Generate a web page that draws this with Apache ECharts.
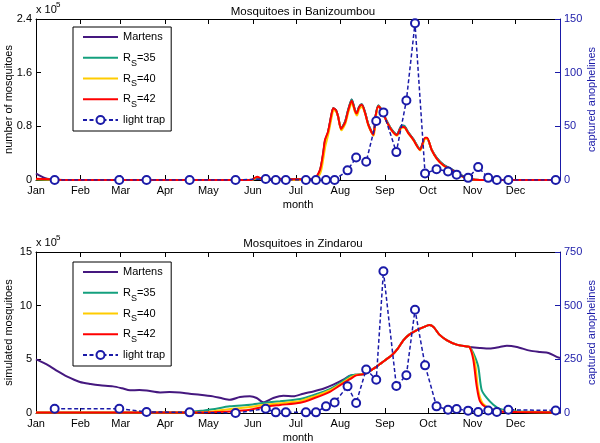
<!DOCTYPE html>
<html><head><meta charset="utf-8">
<script src="https://cdn.jsdelivr.net/npm/echarts@6/dist/echarts.min.js"></script>
<style>html,body{margin:0;padding:0;background:#fff}#c{width:600px;height:443px}</style>
</head><body><div id="c"></div>
<script>
// ---- tick labels / categories ----
const monthNames = ['Jan','Feb','Mar','Apr','May','Jun','Jul','Aug','Sep','Oct','Nov','Dec'];
const monthStartDays = [0,31,59,90,120,151,181,212,243,273,304,334];
const titles = ['Mosquitoes in Banizoumbou', 'Mosquitoes in Zindarou'];
const seriesNames = ['Martens','R_S=35','R_S=40','R_S=42','light trap'];

// ---- Banizoumbou (x: day of year, y: mosquitoes in 1e5) ----
const banMartens = [[0,0.1],[3,0.06],[6,0.03],[10,0.01],[14,0],[150,0],[154,0.03],[158,0.01],[194,0.01],[197.8,0.14],[200,0.38],[201.3,0.58],[203.4,0.71],[206,0.99],[207.1,1.07],[209,1.04],[210.4,0.95],[212.5,0.77],[215.3,0.87],[217.5,1.05],[219.9,1.2],[222.2,1.04],[223.4,1.0],[225,1.09],[226.9,1.13],[229.2,1.01],[231.5,0.83],[235,0.68],[236.5,0.95],[238.4,1.11],[240.8,1.04],[244.3,0.88],[247.8,0.75],[251.3,0.68],[254.7,0.81],[256.3,0.81],[259.3,0.71],[262.8,0.61],[267.5,0.46],[271,0.62],[272.4,0.62],[275.6,0.45],[279.1,0.33],[283.7,0.23],[289.6,0.16],[295.3,0.08],[302.3,0.02],[309.3,0],[365,0]];
const banR35 = [[0,0.01],[20,0],[150,0],[154,0.03],[158,0.01],[194,0.01],[197.8,0.14],[200,0.38],[201.3,0.58],[203.4,0.71],[206,0.99],[207.1,1.07],[209,1.04],[210.4,0.95],[212.5,0.77],[215.3,0.87],[217.5,1.05],[219.9,1.2],[222.2,1.04],[223.4,1.0],[225,1.09],[226.9,1.13],[229.2,1.01],[231.5,0.83],[235,0.68],[236.5,0.95],[238.4,1.11],[240.8,1.04],[244.3,0.88],[247.8,0.75],[251.3,0.68],[254.7,0.81],[256.3,0.81],[259.3,0.71],[262.8,0.61],[267.5,0.46],[271,0.62],[272.4,0.62],[275.6,0.45],[279.1,0.33],[283.7,0.23],[289.6,0.16],[295.3,0.08],[302.3,0.02],[309.3,0],[365,0]];
const banR40 = [[0,0.01],[20,0],[150,0],[154,0.04],[158,0.01],[168,0.02],[172,0],[194,0.01],[198,0.1],[200,0.3],[201.5,0.5],[203.6,0.68],[206.2,0.96],[207.3,1.04],[209,1.02],[210.6,0.93],[212.7,0.74],[215.5,0.84],[217.7,1.02],[220,1.15],[222.4,1.0],[223.6,0.96],[225.2,1.06],[227,1.09],[229.4,0.98],[231.7,0.8],[235.2,0.66],[236.7,0.93],[238.6,1.1],[241,1.03],[244.5,0.86],[248,0.73],[251.5,0.66],[254.9,0.78],[256.5,0.78],[259.5,0.69],[263,0.59],[267.7,0.44],[271.2,0.61],[272.6,0.61],[275.8,0.44],[279.3,0.31],[284,0.21],[290,0.14],[295.5,0.06],[302.5,0.01],[309.3,0],[365,0]];
const banR42 = [[0,0.02],[10,0.01],[20,0],[150,0],[154,0.05],[158,0.01],[165,0.01],[168,0.03],[172,0.01],[190,0.01],[194,0.02],[197.8,0.15],[200,0.4],[201.3,0.6],[203.4,0.72],[206,1.0],[207.1,1.07],[209,1.04],[210.4,0.95],[212.5,0.76],[215.3,0.86],[217.5,1.04],[219.9,1.18],[222.2,1.03],[223.4,0.99],[225,1.08],[226.9,1.12],[229.2,1.0],[231.5,0.82],[235,0.67],[236.5,0.95],[238.4,1.1],[240.8,1.04],[244.3,0.87],[247.8,0.74],[251.3,0.67],[254.7,0.79],[256.3,0.79],[259.3,0.7],[262.8,0.6],[267.5,0.45],[271,0.63],[272.4,0.63],[275.6,0.45],[279.1,0.32],[283.7,0.22],[289.6,0.15],[295.3,0.07],[302.3,0.015],[309.3,0],[365,0]];
const banTrap = [[13,0],[58,0],[77,0],[107,0],[139,0],[160,1],[167,0],[174,0],[188,0],[195,0],[202,0],[208,0],[217,9],[223,21],[230,17],[237,55],[242,63],[251,26],[258,74],[264,146],[271,6],[279,10],[287,8],[293,5],[301,2],[308,12],[315,2],[321,0],[329,0],[362,0]];

// ---- Zindarou ----
const zinMartens = [[0,5.0],[5,4.7],[9.8,4.35],[15,3.9],[21.4,3.41],[30.6,2.89],[38,2.7],[44.6,2.58],[53.6,2.48],[60,2.3],[65.5,2.11],[72,2.15],[77.1,2.1],[86.4,1.92],[93,1.95],[100.3,1.92],[107,1.8],[114.2,1.71],[123.3,1.55],[130,1.35],[135.1,1.24],[142.1,1.49],[149,1.55],[153.7,1.4],[158.3,1.0],[165.3,1.4],[172.3,1.61],[179.2,1.55],[186.2,1.8],[193.2,2.01],[200.1,2.26],[207.1,2.64],[214.1,3.1],[218.7,3.48],[223.4,3.57],[228,3.62],[230.4,3.75],[233,3.95],[237,4.3],[240,4.6],[244,5.0],[248,5.4],[252,6.0],[256,6.8],[260,7.3],[265,7.7],[270,8.0],[274,8.2],[277,8.0],[281,7.3],[286,6.8],[293,6.37],[300,6.2],[302,6.15],[309,6.06],[316,6.0],[323,6.15],[328,6.27],[335,6.15],[344,5.81],[351,5.68],[357,5.59],[362,5.28],[365,5.12]];
const zinR35 = [[0,0.05],[100,0.06],[115,0.2],[123,0.35],[135,0.62],[149,0.77],[158,0.93],[170,1.1],[184,1.3],[194,1.7],[205,2.24],[212,2.8],[219,3.48],[223,3.57],[228,3.63],[230.4,3.75],[233,3.95],[237,4.3],[240,4.6],[244,5.0],[248,5.4],[252,6.0],[256,6.8],[260,7.3],[265,7.7],[270,8.0],[274,8.2],[277,8.0],[281,7.3],[286,6.8],[293,6.37],[300,6.2],[302,6.15],[304.6,5.59],[308,4.35],[310.4,2.17],[314,1.4],[318.6,0.77],[323.2,0.37],[328,0.24],[337,0.15],[365,0.1]];
const zinR40 = [[0,0.05],[110,0.05],[123,0.15],[135,0.37],[149,0.55],[158,0.75],[170,0.9],[184,1.12],[194,1.55],[205,2.12],[212,2.7],[219,3.3],[223,3.55],[228,3.63],[230.4,3.75],[233,3.95],[237,4.3],[240,4.6],[244,5.0],[248,5.4],[252,6.0],[256,6.8],[260,7.3],[265,7.7],[270,8.0],[274,8.2],[277,8.0],[281,7.3],[286,6.8],[293,6.37],[300,6.2],[302,6.15],[305.8,4.66],[308,2.17],[311,0.93],[317.4,0.37],[330,0.15],[365,0.05]];
const zinR42 = [[0,0.05],[60,0.04],[110,0.04],[123,0.08],[135,0.15],[149,0.31],[158,0.56],[170,0.75],[184,0.95],[194,1.4],[205,2.0],[212,2.6],[219,3.17],[223,3.5],[228,3.62],[230.4,3.75],[233,3.95],[237,4.3],[240,4.6],[244,5.0],[248,5.4],[252,6.0],[256,6.8],[260,7.3],[265,7.7],[270,8.0],[274,8.2],[277,8.0],[281,7.3],[286,6.8],[293,6.37],[300,6.2],[302,6.15],[304.6,4.97],[307,2.48],[309.3,1.08],[314,0.47],[321,0.15],[335,0.1],[365,0.05]];
const zinTrap = [[13,20],[58,20],[77,5],[107,3],[139,0],[160,20],[167,3],[174,3],[188,3],[195,3],[202,31],[208,49],[217,125],[223,47],[230,203],[237,155],[242,660],[251,126],[258,176],[264,481],[271,222],[279,31],[287,15],[293,19],[301,11],[308,5],[315,12],[321,5],[329,15],[362,12]];

// ---- axis ranges ----
const leftAxisTop = {max: 2.4, interval: 0.8};
const rightAxisTop = {max: 150, interval: 50};
const leftAxisBot = {max: 15, interval: 5};
const rightAxisBot = {max: 750, interval: 250};

const FONT = 'Liberation Sans, Arial, sans-serif';
const BLUE = '#1a1aa8';
const colors = {Martens:'#45187f', 'R_S=35':'#14a07e', 'R_S=40':'#ffcc00', 'R_S=42':'#ff0000', 'light trap': BLUE};

const chart = echarts.init(document.getElementById('c'), null, {renderer:'canvas'});

function xBottom(gi){
  return {type:'value', gridIndex:gi, min:0, max:365, position:'bottom',
    axisLine:{show:true, onZero:false, lineStyle:{color:'#000', width:1}},
    axisTick:{show:true, inside:true, length:5, customValues:monthStartDays, lineStyle:{color:'#000'}},
    axisLabel:{show:true, customValues:monthStartDays, color:'#000', fontSize:11, fontFamily:FONT, margin:5,
      formatter:v=>monthNames[monthStartDays.indexOf(Math.round(v))]||''},
    splitLine:{show:false},
    name:'month', nameLocation:'middle', nameGap:19, nameMoveOverlap:false,
    nameTextStyle:{color:'#000', fontSize:11, fontFamily:FONT}};
}
function xTop(gi){
  return {type:'value', gridIndex:gi, min:0, max:365, position:'top',
    axisLine:{show:true, onZero:false, lineStyle:{color:'#000', width:1}},
    axisTick:{show:true, inside:true, length:5, customValues:monthStartDays, lineStyle:{color:'#000'}},
    axisLabel:{show:false}, splitLine:{show:false}};
}
function yLeft(gi, r, name){
  return {type:'value', gridIndex:gi, position:'left', min:0, max:r.max, interval:r.interval,
    axisLine:{show:true, onZero:false, lineStyle:{color:'#000', width:1}},
    axisTick:{show:true, inside:true, length:5, lineStyle:{color:'#000'}},
    axisLabel:{color:'#000', fontSize:11, fontFamily:FONT, margin:4},
    splitLine:{show:false},
    name:name, nameLocation:'middle', nameGap:22, nameRotate:90, nameMoveOverlap:false,
    nameTextStyle:{color:'#000', fontSize:11, fontFamily:FONT}};
}
function yRight(gi, r, name){
  return {type:'value', gridIndex:gi, position:'right', min:0, max:r.max, interval:r.interval,
    axisLine:{show:true, onZero:false, lineStyle:{color:BLUE, width:1}},
    axisTick:{show:true, inside:true, length:5, lineStyle:{color:BLUE}},
    axisLabel:{color:BLUE, fontSize:11, fontFamily:FONT, margin:4},
    splitLine:{show:false},
    name:name, nameLocation:'middle', nameGap:26, nameRotate:90, nameMoveOverlap:false,
    nameTextStyle:{color:BLUE, fontSize:11, fontFamily:FONT}};
}
function modelSeries(name, data, xi, yi){
  return {type:'line', name:name, data:data, xAxisIndex:xi, yAxisIndex:yi, symbol:'none', smooth:0.25,
    lineStyle:{color:colors[name], width:2}, itemStyle:{color:colors[name]}, z:3};
}
function trapSeries(data, xi, yi){
  return {type:'line', name:'light trap', data:data, xAxisIndex:xi, yAxisIndex:yi,
    symbol:'emptyCircle', symbolSize:8, showSymbol:true,
    lineStyle:{color:BLUE, width:1.5, type:[4,2.5]}, itemStyle:{color:BLUE, borderColor:BLUE, borderWidth:1.6}, z:5};
}
function legendCfg(top){
  return {show:true, orient:'vertical', left:73, top:top,
    data:seriesNames.map(n => n === 'light trap' ? {name:n} : {name:n, itemStyle:{opacity:0}}),
    selectedMode:false,
    itemWidth:35, itemHeight:10, itemGap:0.75, padding:[0,6,1,9],
    borderColor:'#000', borderWidth:1, backgroundColor:'#fff',
    formatter:n=>n.replace('R_S', 'R{sub|S}'),
    textStyle:{color:'#000', fontSize:11, fontFamily:FONT, lineHeight:20,
      rich:{sub:{fontSize:9, fontFamily:FONT, color:'#000', lineHeight:9, verticalAlign:'bottom'}}}};
}

const option = {
  animation:false,
  backgroundColor:'#fff',
  title:[
    {text:titles[0], left:298, top:1, textAlign:'center', textStyle:{fontSize:11.5, fontWeight:'normal', color:'#000', fontFamily:FONT}},
    {text:titles[1], left:298, top:233, textAlign:'center', textStyle:{fontSize:11.5, fontWeight:'normal', color:'#000', fontFamily:FONT}}
  ],
  grid:[
    {left:36, right:40, top:19, height:161, outerBoundsMode:'none', containLabel:false},
    {left:36, right:40, top:252, height:161, outerBoundsMode:'none', containLabel:false}
  ],
  xAxis:[xBottom(0), xTop(0), xBottom(1), xTop(1)],
  yAxis:[yLeft(0, leftAxisTop, 'number of mosquitoes'), yRight(0, rightAxisTop, 'captured anophelines'),
         yLeft(1, leftAxisBot, 'simulated mosquitoes'), yRight(1, rightAxisBot, 'captured anophelines')],
  legend:[legendCfg(27), legendCfg(262)],
  graphic:[
    {type:'text', left:36, top:4, style:{text:'x 10', font:'11px '+FONT, fill:'#000'}},
    {type:'text', left:56, top:1, style:{text:'5', font:'8px '+FONT, fill:'#000'}},
    {type:'text', left:36, top:237, style:{text:'x 10', font:'11px '+FONT, fill:'#000'}},
    {type:'text', left:56, top:234, style:{text:'5', font:'8px '+FONT, fill:'#000'}}
  ],
  series:[
    modelSeries('Martens', banMartens, 0, 0),
    modelSeries('R_S=35', banR35, 0, 0),
    modelSeries('R_S=40', banR40, 0, 0),
    modelSeries('R_S=42', banR42, 0, 0),
    trapSeries(banTrap, 0, 1),
    modelSeries('Martens', zinMartens, 2, 2),
    modelSeries('R_S=35', zinR35, 2, 2),
    modelSeries('R_S=40', zinR40, 2, 2),
    modelSeries('R_S=42', zinR42, 2, 2),
    trapSeries(zinTrap, 2, 3)
  ]
};
chart.setOption(option);
</script></body></html>
